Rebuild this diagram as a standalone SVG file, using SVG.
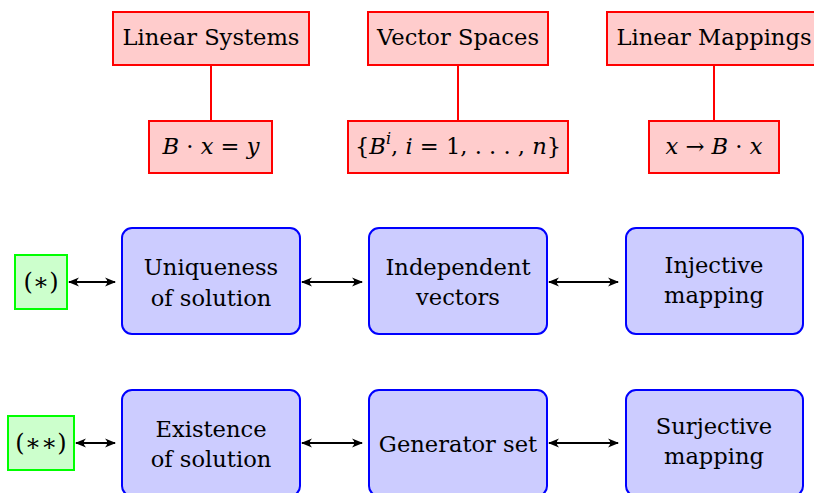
<svg xmlns="http://www.w3.org/2000/svg" width="814" height="493" viewBox="0 0 814 493">
<defs>
<style>
text{font-family:"DejaVu Serif",serif;font-size:22.6px;fill:#000;text-anchor:middle}
.it{font-style:italic}
.big{font-size:24px}
.red{fill:#FFCCCC;stroke:#FF0000;stroke-width:2}
.blue{fill:#CCCCFF;stroke:#0000FF;stroke-width:2}
.green{fill:#CCFFCC;stroke:#00FF00;stroke-width:2}
.tree{stroke:#FF0000;stroke-width:2;fill:none}
.arr{stroke:#000;stroke-width:2;fill:none;marker-start:url(#ah);marker-end:url(#ah)}
</style>
<marker id="ah" viewBox="0 0 11 10" refX="10" refY="5" markerWidth="11" markerHeight="10" markerUnits="userSpaceOnUse" orient="auto-start-reverse">
<path d="M0,0.5 Q4.5,5 0,9.5 L11,5 Z" fill="#000"/>
</marker>
</defs>
<g id="connectors">
<line class="tree" x1="211" y1="65" x2="211" y2="121"/>
<line class="tree" x1="458" y1="65" x2="458" y2="121"/>
<line class="tree" x1="714" y1="65" x2="714" y2="121"/>
<line class="arr" x1="69" y1="282" x2="115" y2="282"/>
<line class="arr" x1="302" y1="282" x2="362" y2="282"/>
<line class="arr" x1="549" y1="282" x2="618" y2="282"/>
<line class="arr" x1="76" y1="443" x2="115" y2="443"/>
<line class="arr" x1="302" y1="443" x2="362" y2="443"/>
<line class="arr" x1="549" y1="443" x2="618" y2="443"/>
</g>
<g id="linear-systems"><rect class="red" x="113" y="12" width="196" height="53"/><text x="211" y="45">Linear Systems</text></g>
<g id="vector-spaces"><rect class="red" x="368" y="12" width="180" height="53"/><text x="458" y="45">Vector Spaces</text></g>
<g id="linear-mappings"><rect class="red" x="607" y="12" width="214" height="53"/><text x="714" y="45">Linear Mappings</text></g>
<g id="eq-system"><rect class="red" x="149" y="121" width="123" height="52"/><text x="211" y="154"><tspan class="it">B</tspan> · <tspan class="it">x</tspan> = <tspan class="it">y</tspan></text></g>
<g id="eq-basis"><rect class="red" x="348" y="121" width="220" height="52"/><text x="458" y="154">{<tspan class="it">B</tspan><tspan class="it" font-size="16" dy="-10">i</tspan><tspan dy="10">, </tspan><tspan class="it">i</tspan> = 1, . . . , <tspan class="it">n</tspan>}</text></g>
<g id="eq-map"><rect class="red" x="649" y="121" width="130" height="52"/><text x="714" y="154"><tspan class="it">x</tspan> → <tspan class="it">B</tspan> · <tspan class="it">x</tspan></text></g>
<g id="star"><rect class="green" x="15" y="255" width="52" height="54"/><text class="big" x="41" y="290">(∗)</text></g>
<g id="uniqueness"><rect class="blue" x="122" y="228" width="178" height="106" rx="10"/><text x="211" y="275">Uniqueness</text><text x="211" y="306">of solution</text></g>
<g id="independent"><rect class="blue" x="369" y="228" width="178" height="106" rx="10"/><text x="458" y="275">Independent</text><text x="458" y="305">vectors</text></g>
<g id="injective"><rect class="blue" x="626" y="228" width="177" height="106" rx="10"/><text x="714" y="273">Injective</text><text x="714" y="303">mapping</text></g>
<g id="starstar"><rect class="green" x="8" y="416" width="66" height="54"/><text class="big" x="41" y="451">(∗∗)</text></g>
<g id="existence"><rect class="blue" x="122" y="390" width="178" height="106" rx="10"/><text x="211" y="437">Existence</text><text x="211" y="467">of solution</text></g>
<g id="generator"><rect class="blue" x="369" y="390" width="178" height="106" rx="10"/><text x="458" y="452">Generator set</text></g>
<g id="surjective"><rect class="blue" x="626" y="390" width="177" height="106" rx="10"/><text x="714" y="434">Surjective</text><text x="714" y="464">mapping</text></g>
</svg>
